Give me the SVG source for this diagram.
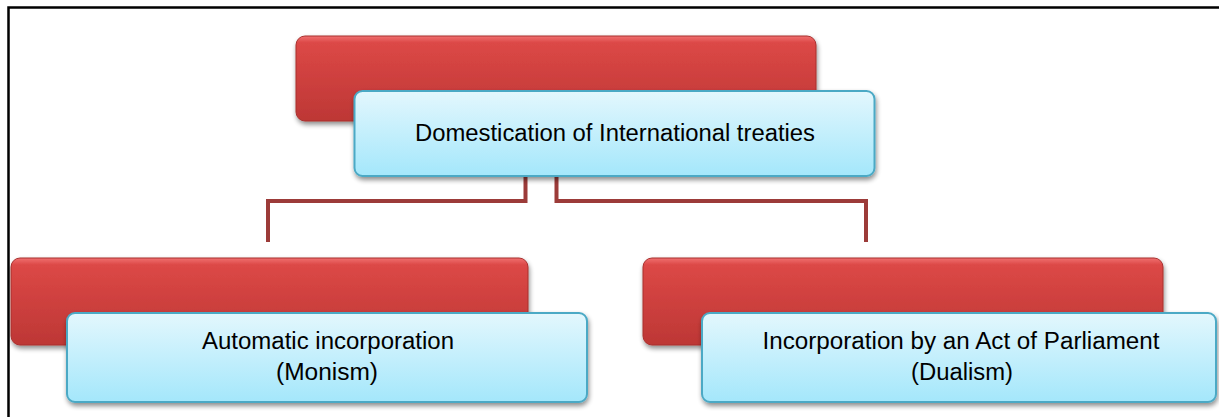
<svg xmlns="http://www.w3.org/2000/svg" width="1219" height="417" viewBox="0 0 1219 417">
<defs>
<linearGradient id="red" x1="0" y1="0" x2="0" y2="1">
<stop offset="0" stop-color="#f07070"/>
<stop offset="0.08" stop-color="#dc4846"/>
<stop offset="1" stop-color="#bd3735"/>
</linearGradient>
<linearGradient id="blue" x1="0" y1="0" x2="0" y2="1">
<stop offset="0" stop-color="#e3f7fd"/>
<stop offset="1" stop-color="#a4e7fb"/>
</linearGradient>
<filter id="sh" x="-5%" y="-10%" width="110%" height="130%">
<feGaussianBlur in="SourceAlpha" stdDeviation="2.5"/>
<feOffset dx="1" dy="3" result="b"/>
<feComponentTransfer><feFuncA type="linear" slope="0.45"/></feComponentTransfer>
<feMerge><feMergeNode/><feMergeNode in="SourceGraphic"/></feMerge>
</filter>
</defs>
<style>
.r{fill:url(#red);stroke:#a8302e;stroke-width:1;filter:url(#sh)}
.b{fill:url(#blue);stroke:#4ba9c5;stroke-width:2;filter:url(#sh)}
.t{font-family:"Liberation Sans",Arial,sans-serif;font-size:23px;fill:#000;text-anchor:middle}
.c{fill:none;stroke:#9c3b39;stroke-width:4}
</style>
<rect width="1219" height="417" fill="#fff"/>
<path d="M8.5,420 V7.5 H1225" fill="none" stroke="#000" stroke-width="2.5"/>
<g id="connectors">
<path class="c" d="M525.5,176 V201 H268 V242"/>
<path class="c" d="M556.5,176 V201 H866 V242"/>
</g>
<g id="root">
<rect class="r" x="296" y="36" width="520" height="85" rx="9"/>
<rect class="b" x="354.5" y="91" width="520" height="85" rx="8"/>
<text class="t" x="615" y="141" textLength="400" lengthAdjust="spacingAndGlyphs">Domestication of International treaties</text>
</g>
<g id="monism">
<rect class="r" x="11" y="258" width="517" height="87" rx="9"/>
<rect class="b" x="67" y="313" width="520" height="89" rx="8"/>
<text class="t" x="328" y="349" textLength="252" lengthAdjust="spacingAndGlyphs">Automatic incorporation</text>
<text class="t" x="327" y="380" textLength="102" lengthAdjust="spacingAndGlyphs">(Monism)</text>
</g>
<g id="dualism">
<rect class="r" x="643" y="258" width="520" height="87" rx="9"/>
<rect class="b" x="702" y="313" width="514" height="89" rx="8"/>
<text class="t" x="961" y="349" textLength="397" lengthAdjust="spacingAndGlyphs">Incorporation by an Act of Parliament</text>
<text class="t" x="962" y="380" textLength="102" lengthAdjust="spacingAndGlyphs">(Dualism)</text>
</g>
</svg>
